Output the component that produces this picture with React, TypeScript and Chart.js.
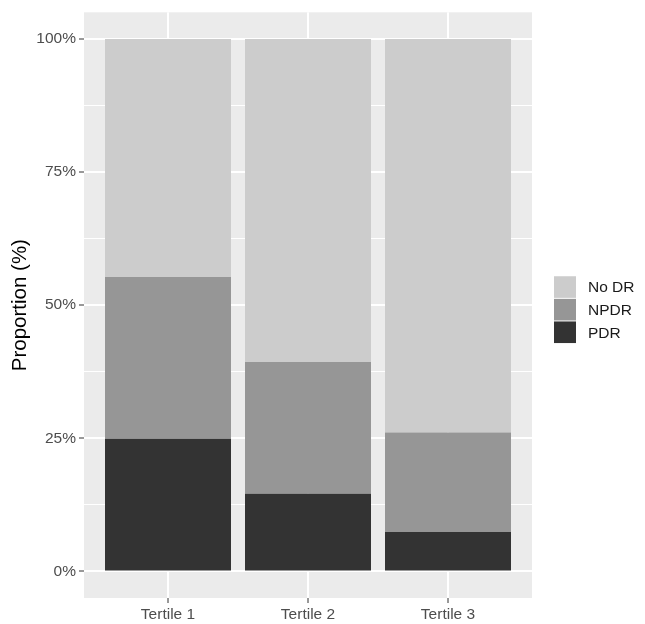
import { useEffect, useRef } from "react";
import { Chart, registerables } from "chart.js";

Chart.register(...registerables);

const categories = ["Tertile 1", "Tertile 2", "Tertile 3"];
const seriesNames = ["PDR", "NPDR", "No DR"];
const pdrValues = [24.9, 14.6, 7.4];
const npdrValues = [30.4, 24.7, 18.7];
const noDrValues = [44.7, 60.7, 73.9];
const seriesColors = ["#333333", "#969696", "#CCCCCC"];
const yTickValues = [0, 12.5, 25, 37.5, 50, 62.5, 75, 87.5, 100];
const yLabelValues = [0, 25, 50, 75, 100];
const yAxisTitle = "Proportion (%)";

const FONT = "'Liberation Sans', Arial, sans-serif";

const panelBg = {
  id: "panelBg",
  beforeDraw(chart: any) {
    const { ctx, chartArea } = chart;
    const { left, top, right, bottom } = chartArea;
    ctx.save();
    ctx.fillStyle = "#EBEBEB";
    ctx.fillRect(left, top, right - left, bottom - top);
    ctx.restore();
  },
};

const customLegend = {
  id: "customLegend",
  afterDraw(chart: any) {
    const { ctx, chartArea } = chart;
    const ds = chart.data.datasets.slice().reverse();
    const keyW = 22;
    const keyH = 22.6;
    const x = chartArea.right + 22;
    const centerY = (chartArea.top + chartArea.bottom) / 2 + 4.5;
    const startY = centerY - (keyH * ds.length) / 2;
    ctx.save();
    ds.forEach((d: any, i: number) => {
      const y = startY + i * keyH;
      ctx.fillStyle = d.backgroundColor;
      ctx.fillRect(x, y + 0.5, keyW, keyH - 1);
      ctx.fillStyle = "#1a1a1a";
      ctx.font = `15.5px ${FONT}`;
      ctx.textBaseline = "middle";
      ctx.textAlign = "left";
      ctx.fillText(d.label, x + keyW + 12, y + keyH / 2 + 1);
    });
    ctx.restore();
  },
};

export default function App() {
  const ref = useRef<HTMLCanvasElement | null>(null);

  useEffect(() => {
    if (!ref.current) return;
    const allValues = [pdrValues, npdrValues, noDrValues];
    const chart = new Chart(ref.current, {
      type: "bar",
      data: {
        datasets: seriesNames.map((name, si) => ({
          label: name,
          data: categories.map((_, ci) => ({ x: ci + 1, y: allValues[si][ci] })),
          backgroundColor: seriesColors[si],
          borderWidth: 0,
          categoryPercentage: 1,
          barPercentage: 0.9,
        })),
      },
      options: {
        animation: false,
        responsive: true,
        maintainAspectRatio: false,
        layout: { padding: { left: 0, top: 11, right: 113, bottom: 0 } },
        plugins: {
          legend: { display: false },
          tooltip: { enabled: false },
        },
        scales: {
          x: {
            type: "linear",
            stacked: true,
            min: 0.4,
            max: 3.6,
            offset: false,
            afterBuildTicks(scale: any) {
              scale.ticks = categories.map((_, i) => ({ value: i + 1 }));
            },
            afterFit(scale: any) {
              scale.height = 26;
            },
            ticks: {
              autoSkip: false,
              maxRotation: 0,
              minRotation: 0,
              padding: 2,
              color: "#4D4D4D",
              font: { family: FONT, size: 15.5 },
              callback: (v: any) => categories[Math.round(Number(v)) - 1] ?? "",
            },
            grid: {
              offset: false,
              color: "#FFFFFF",
              lineWidth: 2,
              tickColor: "#333333",
              tickWidth: 1,
              tickLength: 5,
            },
            border: { display: false },
          },
          y: {
            type: "linear",
            stacked: true,
            min: -5,
            max: 105,
            afterBuildTicks(scale: any) {
              scale.ticks = yTickValues.map((v) => ({ value: v }));
            },
            afterFit(scale: any) {
              scale.width = 84;
            },
            ticks: {
              padding: 3,
              color: "#4D4D4D",
              font: { family: FONT, size: 15.5 },
              callback: (v: any) => (yLabelValues.includes(Number(v)) ? `${v}%` : ""),
            },
            grid: {
              color: "#FFFFFF",
              lineWidth: (c: any) => (yLabelValues.includes(c.tick?.value) ? 2 : 1),
              tickColor: (c: any) =>
                yLabelValues.includes(c.tick?.value) ? "#333333" : "rgba(0,0,0,0)",
              tickWidth: 1,
              tickLength: 5,
            },
            border: { display: false },
            title: {
              display: true,
              text: yAxisTitle,
              color: "#000000",
              font: { family: FONT, size: 20.5 },
              padding: { top: 8, bottom: 0 },
            },
          },
        },
      },
      plugins: [panelBg, customLegend],
    } as any);
    return () => chart.destroy();
  }, []);

  return (
    <div style={{ position: "fixed", left: 0, top: 0, width: 645, height: 624, background: "#FFFFFF" }}>
      <canvas ref={ref} />
    </div>
  );
}
